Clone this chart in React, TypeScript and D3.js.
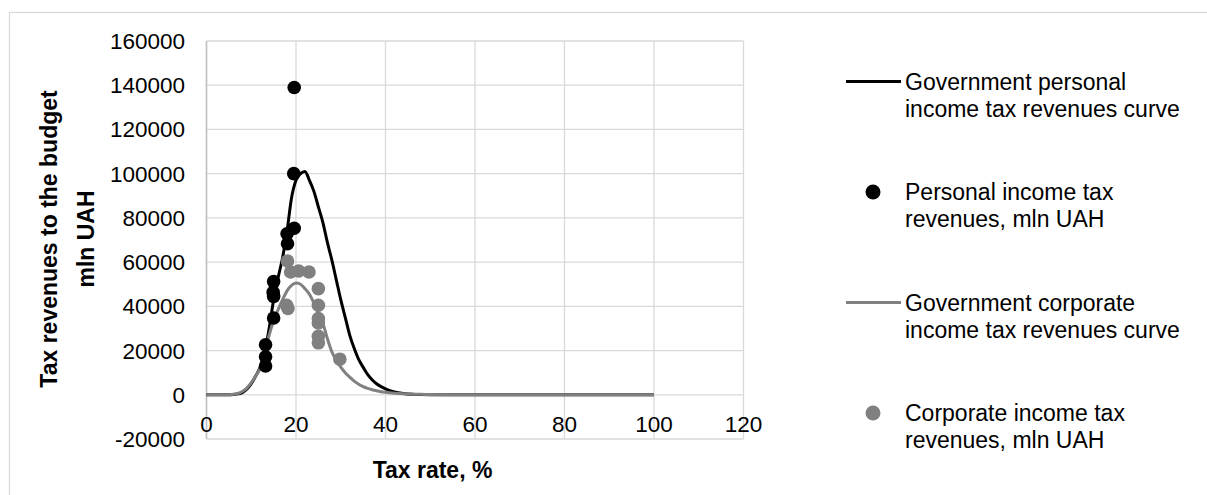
import React from "react";
import * as d3 from "d3";

// Tick values
const xTicks = [0, 20, 40, 60, 80, 100, 120];
const yTicks = [-20000, 0, 20000, 40000, 60000, 80000, 100000, 120000, 140000, 160000];

// Model curves (tax rate %, revenues thousands mln UAH)
const curveX = [0, 2, 4, 5, 6, 7, 8, 9, 10, 11, 12, 13, 14, 15, 16, 17, 18, 19, 20, 21, 22, 23, 24, 25, 26, 27, 28, 29, 30, 31, 32, 33, 34, 35, 36, 37, 38, 39, 40, 42, 44, 46, 48, 50, 55, 60, 70, 80, 90, 100];
const personalCurve = [0, 0, 0, 0, 0.1, 0.4, 1, 2.5, 5, 8.5, 12.5, 19, 30, 43, 53, 62, 74, 89, 97, 100, 101, 97, 92, 85, 78, 69, 61, 52, 43, 35, 27, 21, 16, 12.5, 9.2, 6.8, 5, 3.7, 2.7, 1.3, 0.6, 0.25, 0.1, 0.04, 0, 0, 0, 0, 0, 0];
const corporateCurve = [0, 0, 0, 0.05, 0.2, 0.6, 1.5, 3, 5.5, 8.5, 12, 19, 27, 33.5, 38.5, 43, 47, 49.5, 50.5, 50, 48, 45.5, 41.5, 37, 32.5, 25.5, 19.5, 15.5, 12.5, 10, 8, 6.2, 4.8, 3.7, 2.9, 2.3, 1.8, 1.4, 1.1, 0.7, 0.45, 0.3, 0.2, 0.12, 0.04, 0, 0, 0, 0, 0];

// Observations
const personalRate = [13.2, 13.2, 13.2, 15.0, 14.9, 15.0, 15.0, 18.0, 18.1, 19.6, 19.5, 19.6];
const personalRevenue = [22600, 17200, 13000, 51200, 46300, 44500, 34700, 72800, 68300, 75300, 100000, 139000];
const corporateRate = [18.1, 18.8, 20.6, 22.9, 25.0, 25.0, 25.0, 25.0, 25.0, 25.0, 17.9, 18.2, 29.8];
const corporateRevenue = [60500, 55500, 56000, 55500, 48000, 40500, 34500, 32500, 26500, 23500, 40500, 39000, 16100];

const legendItems = [
  { kind: "line", color: "#000000", lines: ["Government personal", "income tax revenues curve"] },
  { kind: "dot", color: "#000000", lines: ["Personal income tax", "revenues, mln UAH"] },
  { kind: "line", color: "#808080", lines: ["Government corporate", "income tax revenues curve"] },
  { kind: "dot", color: "#808080", lines: ["Corporate income tax", "revenues, mln UAH"] },
];

const W = 1207;
const H = 495;
const FONT = "'Liberation Sans', Arial, sans-serif";

export default function App() {
  const x = d3.scaleLinear().domain([0, 120]).range([206.5, 743.5]);
  const y = d3.scaleLinear().domain([-20000, 160000]).range([439, 41]);

  const line = d3
    .line<number>()
    .x((_, i) => x(curveX[i]))
    .y((v) => y(v * 1000))
    .curve(d3.curveMonotoneX);

  return (
    <svg width={W} height={H} style={{ position: "absolute", left: 0, top: 0 }} fontFamily={FONT}>
      <rect x={0} y={0} width={W} height={H} fill="#ffffff" />
      <rect x={9.5} y={12.5} width={1400} height={700} fill="none" stroke="#d9d9d9" strokeWidth={1.3} />

      {/* gridlines */}
      {yTicks.map((t) => (
        <line key={"gy" + t} x1={x(0)} x2={x(120)} y1={y(t)} y2={y(t)} stroke="#d9d9d9" strokeWidth={1.3} />
      ))}
      {xTicks.map((t) => (
        <line key={"gx" + t} x1={x(t)} x2={x(t)} y1={y(-20000)} y2={y(160000)} stroke="#d9d9d9" strokeWidth={1.3} />
      ))}
      <line x1={x(0)} x2={x(0)} y1={y(-20000)} y2={y(160000)} stroke="#bfbfbf" strokeWidth={1.5} />

      {/* y tick labels */}
      {yTicks.map((t) => (
        <text key={"ty" + t} x={185} y={y(t) + 8} textAnchor="end" fontSize={22.5} fill="#000">
          {String(t)}
        </text>
      ))}
      {/* x tick labels */}
      {xTicks.map((t) => (
        <text key={"tx" + t} x={x(t)} y={432} textAnchor="middle" fontSize={22.5} fill="#000">
          {String(t)}
        </text>
      ))}

      {/* curves */}
      <path d={line(personalCurve) || ""} fill="none" stroke="#000000" strokeWidth={3} />
      <path d={line(corporateCurve) || ""} fill="none" stroke="#808080" strokeWidth={3} />

      {/* points */}
      {personalRate.map((r, i) => (
        <circle key={"p" + i} cx={x(r)} cy={y(personalRevenue[i])} r={6.8} fill="#000000" />
      ))}
      {corporateRate.map((r, i) => (
        <circle key={"c" + i} cx={x(r)} cy={y(corporateRevenue[i])} r={6.8} fill="#808080" />
      ))}

      {/* axis titles */}
      <text x={432.5} y={478} textAnchor="middle" fontSize={23} fontWeight="bold" fill="#000">
        Tax rate, %
      </text>
      <g transform="translate(0,239) rotate(-90)">
        <text x={0} y={57} textAnchor="middle" fontSize={23} fontWeight="bold" fill="#000">
          Tax revenues to the budget
        </text>
        <text x={0} y={94} textAnchor="middle" fontSize={23} fontWeight="bold" fill="#000">
          mln UAH
        </text>
      </g>

      {/* legend */}
      {legendItems.map((it, i) => {
        const base = 89.5 + i * 110.5;
        return (
          <g key={"lg" + i}>
            {it.kind === "line" ? (
              <line x1={846} x2={901} y1={base - 8} y2={base - 8} stroke={it.color} strokeWidth={3} />
            ) : (
              <circle cx={873} cy={base - 8} r={7.5} fill={it.color} />
            )}
            {it.lines.map((l, j) => (
              <text key={j} x={905} y={base + j * 27} fontSize={23} fill="#000">
                {l}
              </text>
            ))}
          </g>
        );
      })}
    </svg>
  );
}
